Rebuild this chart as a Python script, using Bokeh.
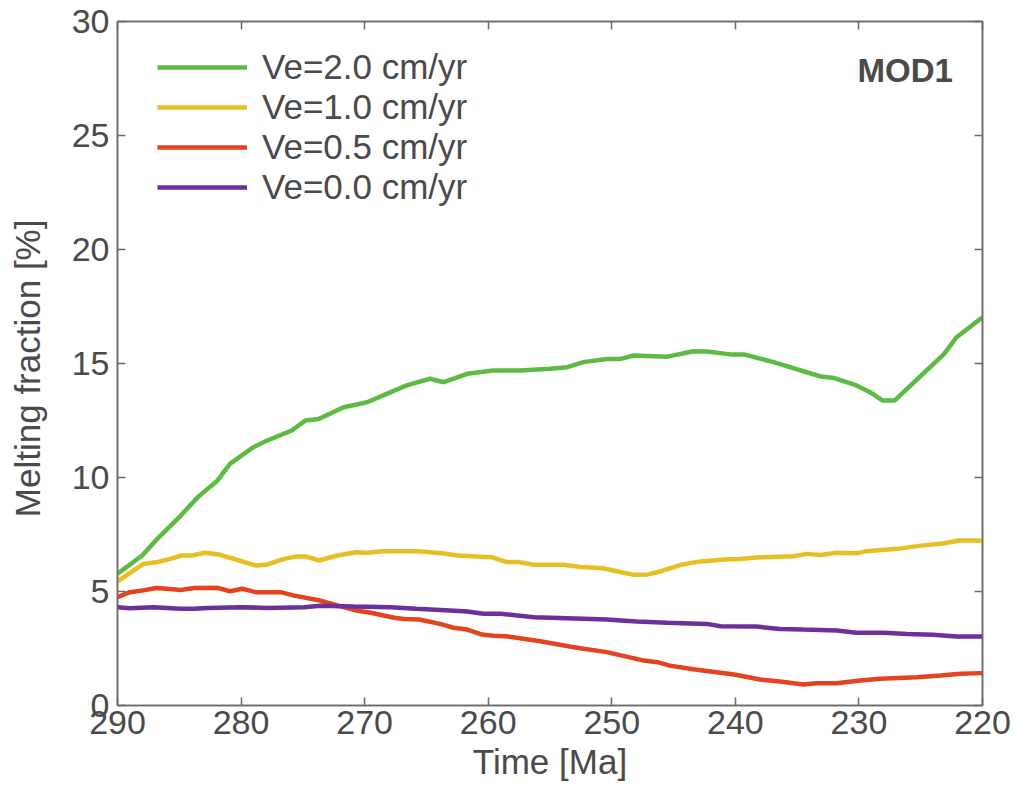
from bokeh.plotting import figure
from bokeh.models import (Range1d, FixedTicker, LinearAxis, Legend, LegendItem, Label,
                          CustomJSTickFormatter)
from bokeh.embed import file_html
from bokeh.resources import INLINE

# ---- data ----
x_ticks = [290, 280, 270, 260, 250, 240, 230, 220]
y_ticks = [0, 5, 10, 15, 20, 25, 30]

green_t = [290, 288.0, 286.9, 285.0, 283.5, 281.9, 280.9, 279.0, 277.9, 275.9, 274.8, 273.7,
           271.7, 269.8, 268.5, 266.6, 264.7, 263.6, 261.7, 259.6, 257.4, 255.0, 253.6, 252.3,
           250.4, 249.3, 248.2, 245.5, 243.4, 242.3, 240.4, 239.3, 236.9, 233.1, 232.0, 230.2,
           229.1, 228.1, 227.1, 225.1, 223.1, 222.1, 220.0]
green_v = [5.78, 6.58, 7.24, 8.26, 9.14, 9.87, 10.6, 11.33, 11.62, 12.06, 12.5, 12.57,
           13.08, 13.3, 13.6, 14.04, 14.33, 14.18, 14.55, 14.69, 14.69, 14.77, 14.84, 15.06,
           15.2, 15.2, 15.35, 15.3, 15.54, 15.53, 15.4, 15.4, 15.06, 14.43, 14.36, 14.04,
           13.74, 13.38, 13.38, 14.4, 15.42, 16.15, 17.03]

yellow_t = [290, 287.9, 286.8, 286.0, 284.8, 284.0, 282.9, 281.8, 280.9, 278.8, 278.0, 276.5,
            275.5, 274.8, 273.7, 272.2, 270.7, 269.7, 268.6, 265.7, 263.7, 262.5, 259.7, 258.5,
            257.5, 256.3, 253.9, 252.5, 250.7, 249.6, 248.2, 247.1, 246.0, 244.4, 242.8, 240.9,
            239.6, 238.0, 235.3, 234.2, 233.1, 231.8, 230.2, 229.4, 226.9, 225.3, 223.1, 221.9, 220.0]
yellow_v = [5.44, 6.21, 6.29, 6.39, 6.58, 6.58, 6.70, 6.62, 6.48, 6.14, 6.17, 6.43,
            6.54, 6.54, 6.36, 6.58, 6.72, 6.70, 6.77, 6.77, 6.68, 6.58, 6.50, 6.29,
            6.29, 6.17, 6.17, 6.07, 6.02, 5.89, 5.73, 5.75, 5.89, 6.17, 6.32, 6.40,
            6.43, 6.50, 6.55, 6.65, 6.60, 6.70, 6.68, 6.77, 6.87, 6.99, 7.12, 7.24, 7.24]

red_t = [290, 289.0, 288.0, 286.9, 286.0, 284.9, 283.8, 281.9, 280.9, 279.9, 278.8, 276.8,
         275.7, 273.8, 272.5, 270.7, 269.5, 267.6, 266.8, 265.6, 263.9, 262.8, 261.7, 260.5,
         259.6, 258.6, 255.8, 253.4, 252.3, 250.4, 247.4, 246.3, 245.3, 243.4, 240.1, 238.0,
         236.4, 234.5, 233.4, 231.8, 229.9, 228.3, 225.3, 223.4, 221.8, 220.0]
red_v = [4.75, 4.97, 5.04, 5.15, 5.12, 5.07, 5.15, 5.16, 5.01, 5.12, 4.97, 4.97,
         4.82, 4.63, 4.43, 4.17, 4.07, 3.85, 3.79, 3.77, 3.58, 3.41, 3.33, 3.11,
         3.06, 3.04, 2.82, 2.59, 2.49, 2.34, 1.97, 1.90, 1.75, 1.59, 1.36, 1.14,
         1.05, 0.92, 0.98, 0.98, 1.10, 1.17, 1.24, 1.32, 1.39, 1.42]

purple_t = [290, 289.0, 287.1, 284.9, 283.8, 282.7, 280.0, 277.9, 274.9, 273.6, 270.9, 267.9,
            265.8, 263.1, 261.7, 260.4, 259.0, 256.3, 253.6, 250.4, 248.0, 245.5, 242.3, 241.2,
            238.3, 236.4, 234.5, 231.8, 230.2, 228.0, 226.1, 224.0, 222.1, 220.0]
purple_v = [4.31, 4.27, 4.31, 4.24, 4.24, 4.28, 4.31, 4.28, 4.31, 4.37, 4.34, 4.31,
            4.24, 4.17, 4.12, 4.02, 4.02, 3.87, 3.83, 3.77, 3.68, 3.63, 3.58, 3.48,
            3.46, 3.36, 3.33, 3.29, 3.19, 3.19, 3.14, 3.10, 3.03, 3.03]

series = [
    ("Ve=2.0 cm/yr", green_t, green_v, "#5dba42"),
    ("Ve=1.0 cm/yr", yellow_t, yellow_v, "#e7bf22"),
    ("Ve=0.5 cm/yr", red_t, red_v, "#e5421f"),
    ("Ve=0.0 cm/yr", purple_t, purple_v, "#6d2f99"),
]

TEXT = "#4a4a4a"
AXIS = "#6a6a6a"
FONT = "Liberation Sans"

p = figure(width=1015, height=787, output_backend="svg", toolbar_location=None,
           x_range=Range1d(290, 220), y_range=Range1d(0, 30),
           min_border_left=117, min_border_right=33, min_border_top=21, min_border_bottom=82)
p.grid.visible = False
p.outline_line_color = AXIS
p.outline_line_width = 1.5

for ax in (p.xaxis[0], p.yaxis[0]):
    ax.major_tick_in = 8
    ax.major_tick_out = 0
    ax.minor_tick_line_color = None
    ax.axis_line_color = AXIS
    ax.axis_line_width = 1.5
    ax.major_tick_line_color = AXIS
    ax.major_tick_line_width = 1.5
    ax.major_label_text_font = FONT
    ax.major_label_text_font_size = "34px"
    ax.major_label_text_color = TEXT
    ax.axis_label_text_font = FONT
    ax.axis_label_text_font_size = "35px"
    ax.axis_label_text_font_style = "normal"
    ax.axis_label_text_color = TEXT

p.xaxis[0].ticker = FixedTicker(ticks=x_ticks)
p.yaxis[0].ticker = FixedTicker(ticks=y_ticks)
p.xaxis[0].axis_label = "Time [Ma]"
p.yaxis[0].axis_label = "Melting fraction  [%]"
p.xaxis[0].major_label_standoff = 5
p.yaxis[0].major_label_standoff = 8
p.xaxis[0].axis_label_standoff = 5
p.yaxis[0].axis_label_standoff = 22

# mirrored ticks on top and right (no labels)
for loc, ticks in (("above", x_ticks), ("right", y_ticks)):
    ax = LinearAxis(ticker=FixedTicker(ticks=ticks),
                    formatter=CustomJSTickFormatter(code="return ''"))
    ax.major_tick_in = 8
    ax.major_tick_out = 0
    ax.minor_tick_line_color = None
    ax.axis_line_color = AXIS
    ax.axis_line_width = 1.5
    ax.major_tick_line_color = AXIS
    ax.major_tick_line_width = 1.5
    ax.major_label_standoff = 0
    p.add_layout(ax, loc)

items = []
for name, t, v, c in series:
    r = p.line(t, v, line_color=c, line_width=4.5)
    items.append(LegendItem(label=name, renderers=[r]))

legend = Legend(items=items, location=(40, 498))
legend.glyph_width = 90
legend.glyph_height = 40
legend.label_height = 40
legend.spacing = 0
legend.padding = 0
legend.margin = 0
legend.label_standoff = 15
legend.label_text_font = FONT
legend.label_text_font_size = "35px"
legend.label_text_color = TEXT
legend.border_line_color = None
legend.background_fill_alpha = 0
p.add_layout(legend, "center")

p.add_layout(Label(x=222.4, y=27.85, text="MOD1", text_align="right",
                   text_baseline="alphabetic", text_font=FONT, text_font_size="33px",
                   text_font_style="bold", text_color=TEXT))

open("out.html", "w").write(file_html(p, INLINE))
